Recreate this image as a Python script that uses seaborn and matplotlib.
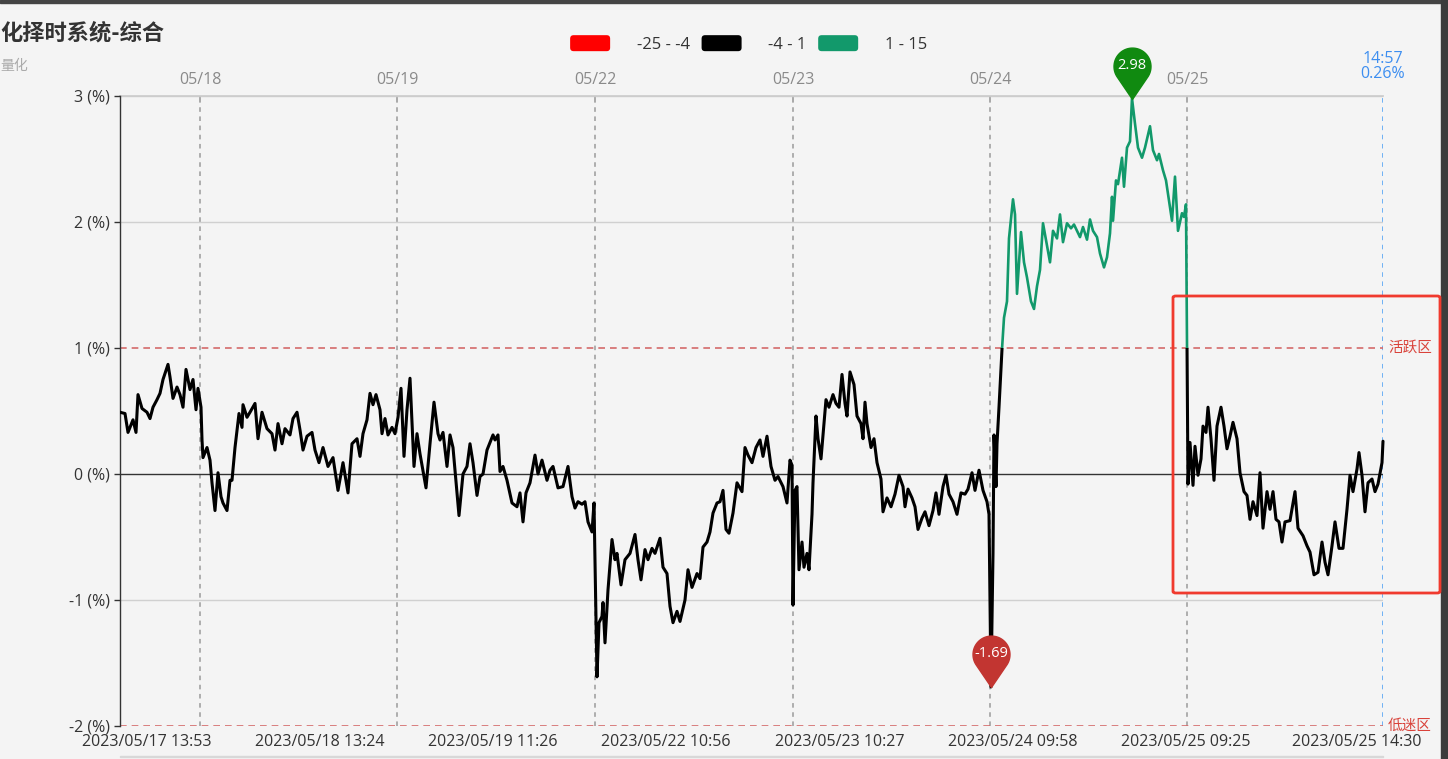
import numpy as np
import pandas as pd
import seaborn as sns
import matplotlib.pyplot as plt
from matplotlib.path import Path
from matplotlib.patches import Rectangle, FancyBboxPatch, Patch
from matplotlib.legend_handler import HandlerPatch
import matplotlib.transforms as mtransforms

# minute samples (category index) and percent values
t = [0, 5, 8, 13, 16, 18, 22, 27, 30, 33, 37, 40, 43, 48, 50, 53, 57, 60, 63, 66,
     70, 73, 76, 78, 81, 82, 83, 87, 90, 92, 95, 98, 101, 103, 107, 110, 112, 115, 119, 122,
     123, 127, 130, 135, 138, 142, 147, 152, 155, 158, 162, 165, 170, 173, 177, 180, 183, 187, 192, 195,
     199, 203, 208, 213, 218, 223, 228, 232, 237, 240, 243, 247, 250, 253, 256, 260, 262, 265, 268, 272,
     275, 278, 281, 284, 287, 290, 294, 297, 300, 306, 310, 314, 318, 320, 323, 327, 330, 333, 339, 343,
     347, 350, 353, 357, 360, 363, 367, 370, 373, 375, 378, 380, 383, 387, 392, 397, 400, 403, 406, 410,
     415, 418, 422, 427, 430, 433, 438, 443, 448, 452, 455, 458, 462, 465, 468, 472, 474, 475, 477, 479,
     482, 483, 485, 488, 492, 495, 497, 501, 505, 510, 515, 518, 521, 525, 528, 532, 535, 540, 543, 547,
     550, 553, 557, 560, 565, 568, 572, 577, 580, 583, 587, 590, 593, 597, 600, 603, 606, 609, 613, 617,
     622, 625, 628, 632, 636, 640, 643, 647, 651, 655, 658, 663, 667, 670, 672, 673, 675, 677, 679, 682,
     684, 687, 689, 692, 693, 696, 698, 701, 703, 706, 709, 713, 716, 719, 722, 725, 727, 730, 734, 737,
     741, 743, 745, 747, 751, 754, 757, 761, 763, 767, 771, 775, 779, 783, 785, 788, 792, 795, 798, 802,
     805, 809, 813, 816, 819, 823, 826, 829, 833, 837, 841, 845, 848, 852, 855, 859, 863, 867, 869, 871,
     873, 874, 876, 877, 879, 882, 884, 887, 889, 893, 895, 897, 901, 904, 907, 911, 914, 917, 920, 923,
     927, 930, 933, 937, 940, 943, 947, 951, 954, 960, 963, 967, 970, 973, 977, 980, 984, 987, 990, 992,
     993, 996, 998, 1002, 1004, 1007, 1010, 1012, 1015, 1018, 1022, 1025, 1030, 1033, 1037, 1039, 1043, 1046, 1049, 1052,
     1055, 1058, 1062, 1064, 1066, 1068, 1070, 1073, 1075, 1078, 1081, 1083, 1086, 1088, 1091, 1094, 1097, 1101, 1104, 1107,
     1110, 1113, 1117, 1120, 1124, 1127, 1130, 1133, 1137, 1140, 1143, 1147, 1150, 1153, 1156, 1159, 1162, 1165, 1170, 1175,
     1178, 1183, 1187, 1190, 1194, 1198, 1202, 1205, 1208, 1212, 1215, 1219, 1223, 1227, 1230, 1233, 1237, 1239, 1242, 1245,
     1248, 1252, 1255, 1258, 1262, 1263]
pct = [0.49, 0.48, 0.33, 0.43, 0.33, 0.63, 0.52, 0.49, 0.44, 0.53, 0.59, 0.64, 0.75, 0.87, 0.77, 0.60, 0.69, 0.63, 0.53, 0.83,
       0.67, 0.75, 0.51, 0.68, 0.53, 0.27, 0.13, 0.21, 0.11, -0.07, -0.29, 0.01, -0.18, -0.23, -0.29, -0.05, -0.05, 0.21, 0.48, 0.37,
       0.55, 0.45, 0.49, 0.56, 0.28, 0.49, 0.36, 0.32, 0.19, 0.40, 0.24, 0.36, 0.31, 0.44, 0.49, 0.35, 0.19, 0.30, 0.33, 0.19,
       0.09, 0.21, 0.06, 0.13, -0.13, 0.09, -0.15, 0.24, 0.28, 0.14, 0.32, 0.43, 0.64, 0.55, 0.63, 0.51, 0.32, 0.44, 0.31, 0.37,
       0.32, 0.45, 0.68, 0.14, 0.51, 0.76, 0.06, 0.32, 0.16, -0.11, 0.24, 0.57, 0.32, 0.27, 0.33, 0.06, 0.31, 0.21, -0.33, 0.00,
       0.06, 0.24, 0.09, -0.17, -0.02, 0.00, 0.19, 0.25, 0.31, 0.27, 0.31, 0.02, 0.06, -0.05, -0.23, -0.26, -0.15, -0.38, -0.15, -0.07,
       0.15, 0.00, 0.11, -0.05, 0.03, 0.06, -0.11, -0.10, 0.06, -0.18, -0.27, -0.22, -0.24, -0.22, -0.38, -0.46, -0.23, -0.68, -1.61, -1.18,
       -1.13, -1.02, -1.34, -0.92, -0.52, -0.68, -0.63, -0.88, -0.68, -0.63, -0.48, -0.68, -0.84, -0.60, -0.68, -0.59, -0.63, -0.51, -0.74, -0.79,
       -1.05, -1.18, -1.09, -1.17, -1.00, -0.76, -0.90, -0.79, -0.83, -0.58, -0.54, -0.46, -0.31, -0.23, -0.22, -0.13, -0.44, -0.47, -0.31, -0.07,
       -0.14, 0.21, 0.15, 0.09, 0.21, 0.27, 0.14, 0.30, 0.06, -0.05, -0.02, -0.10, -0.23, 0.11, 0.07, -1.04, -0.13, -0.10, -0.76, -0.54,
       -0.74, -0.63, -0.76, -0.32, -0.07, 0.46, 0.28, 0.12, 0.31, 0.59, 0.53, 0.63, 0.56, 0.53, 0.79, 0.56, 0.46, 0.81, 0.71, 0.46,
       0.40, 0.28, 0.57, 0.40, 0.21, 0.28, 0.09, -0.04, -0.30, -0.19, -0.26, -0.16, -0.01, -0.10, -0.26, -0.12, -0.19, -0.26, -0.44, -0.35,
       -0.30, -0.41, -0.29, -0.15, -0.32, -0.10, -0.01, -0.16, -0.22, -0.32, -0.15, -0.16, -0.12, 0.01, -0.13, 0.03, -0.13, -0.22, -0.32, -1.69,
       -0.63, 0.31, -0.10, 0.24, 0.53, 0.99, 1.24, 1.37, 1.87, 2.18, 2.06, 1.43, 1.92, 1.68, 1.56, 1.37, 1.31, 1.49, 1.62, 1.99,
       1.81, 1.68, 1.93, 1.87, 2.06, 1.84, 1.99, 1.95, 1.98, 1.88, 1.96, 1.86, 2.02, 1.93, 1.88, 1.75, 1.64, 1.72, 1.91, 2.20,
       2.01, 2.33, 2.30, 2.51, 2.28, 2.59, 2.64, 2.98, 2.78, 2.59, 2.51, 2.59, 2.76, 2.57, 2.49, 2.54, 2.41, 2.33, 2.17, 2.01,
       2.36, 1.93, 2.07, 2.04, 2.14, -0.08, 0.25, -0.09, 0.22, -0.01, 0.12, 0.38, 0.33, 0.53, 0.28, -0.05, 0.38, 0.53, 0.38, 0.20,
       0.30, 0.41, 0.28, 0.01, -0.14, -0.17, -0.36, -0.22, -0.33, 0.01, -0.43, -0.14, -0.28, -0.14, -0.36, -0.38, -0.54, -0.38, -0.37, -0.14,
       -0.43, -0.49, -0.57, -0.62, -0.80, -0.78, -0.54, -0.70, -0.80, -0.57, -0.38, -0.59, -0.59, -0.28, -0.01, -0.14, 0.04, 0.17, -0.01, -0.30,
       -0.07, -0.04, -0.14, -0.08, 0.09, 0.26]

day_start = [80, 277, 475, 673, 870, 1067]
day_labels = ['05/18', '05/19', '05/22', '05/23', '05/24', '05/25']
stamp_pos = [27, 200, 373, 546, 720, 893, 1066, 1237]
stamp_labels = ['2023/05/17 13:53', '2023/05/18 13:24', '2023/05/19 11:26', '2023/05/22 10:56',
                '2023/05/23 10:27', '2023/05/24 09:58', '2023/05/25 09:25', '2023/05/25 14:30']
y_ticks = [-2, -1, 0, 1, 2, 3]
last_time = '14:57'
zones = {1: '活跃区', -2: '低迷区'}
piece_labels = ['-25 - -4', '-4 - 1', '1 - 15']
piece_colors = ['#ff0000', '#000000', '#12996b']

bg = '#f4f4f4'
sns.set_theme(style='white', rc={'axes.facecolor': bg, 'figure.facecolor': bg})
plt.rcParams['font.family'] = ['Open Sans', 'Noto Sans CJK SC', 'DejaVu Sans']

df = pd.DataFrame({'t': t, 'pct': pct})
n_total = t[-1]

fig = plt.figure(figsize=(14.48, 7.59), dpi=100)
ax = fig.add_axes([120 / 1448, 1 - 726 / 759, 1263 / 1448, 630 / 759])
ax.set_xlim(0, n_total)
ax.set_ylim(-2, 3)

# grid + reference lines
for yv in y_ticks:
    if yv in zones:
        continue
    if yv == 0:
        ax.axhline(0, color='#333333', lw=1, zorder=1)
    else:
        ax.axhline(yv, color='#d0d0d0', lw=1, zorder=0)
for yv, name in zones.items():
    ax.axhline(yv, color='#d46a6a', lw=1.2, ls=(0, (4, 3)), zorder=1)
    ax.text(1.004, yv, name, color='#d9423a', fontsize=10.5, va='center', ha='left',
            family='Noto Sans CJK SC',
            transform=mtransforms.blended_transform_factory(ax.transAxes, ax.transData))
for d in day_start:
    ax.axvline(d, color='#9a9a9a', lw=1.1, ls=(0, (3, 3)), zorder=0)
ax.axvline(n_total, color='#4a9ff5', lw=1.1, ls=(0, (3, 3)), zorder=0)

# price line coloured by piece (clip at 1)
sns.lineplot(data=df, x='t', y='pct', color='black', lw=2.2, sort=False, ax=ax, zorder=3)
ax.lines[-1].set_clip_path(Rectangle((0, -3), n_total + 10, 4, transform=ax.transData))
sns.lineplot(data=df, x='t', y='pct', color=piece_colors[2], lw=1.9, sort=False, ax=ax, zorder=3)
ax.lines[-1].set_clip_path(Rectangle((0, 1), n_total + 10, 3, transform=ax.transData))

# pins for max / min
d_c, r_c = 1.78, 1.0
a = np.arcsin(r_c / d_c)
ang = np.linspace(-a, np.pi + a, 60)
verts = [(0, 0)] + [(r_c * np.cos(q), d_c + r_c * np.sin(q)) for q in ang] + [(0, 0)]
pin = Path(verts, closed=True)
i_max = int(np.argmax(pct))
i_min = int(np.argmin(pct))
for i, col in [(i_max, '#108a10'), (i_min, '#c23531')]:
    ax.plot([t[i]], [pct[i]], marker=pin, ms=74, color=col, ls='none', clip_on=False, zorder=6)
    ax.annotate(f'{pct[i]:.2f}', (t[i], pct[i]), xytext=(0, 24), textcoords='offset points',
                ha='center', va='center', color='white', fontsize=10.5, zorder=7, annotation_clip=False)

# last value label
ax.annotate(f'{last_time}\n{pct[-1]:.2f}%', (n_total, 3), xytext=(0, 10), textcoords='offset points',
            ha='center', va='bottom', color='#3d8ef0', fontsize=11.5, linespacing=0.95,
            annotation_clip=False)

# axes styling
ax.set_yticks(y_ticks, labels=[f'{v} (%)' for v in y_ticks])
ax.set_xticks(stamp_pos, labels=stamp_labels)
ax.tick_params(axis='x', length=0, pad=6, labelsize=11.5, labelcolor='#333333')
ax.tick_params(axis='y', left=True, length=4, width=1, color='#333333', pad=3, labelsize=11.5, labelcolor='#333333')
ax.set_xlabel('')
ax.set_ylabel('')
for s in ['top', 'right', 'bottom']:
    ax.spines[s].set_visible(False)
ax.spines['left'].set_color('#333333')
ax.spines['left'].set_linewidth(1)

top = ax.secondary_xaxis('top')
top.set_xticks(day_start, labels=day_labels)
top.tick_params(direction='in', length=4, color='#aaaaaa', labelcolor='#8a8a8a', labelsize=11.5, pad=6)
top.spines['top'].set_color('#cccccc')

# legend
class RoundHandler(HandlerPatch):
    def create_artists(self, legend, orig_handle, xdescent, ydescent, width, height, fontsize, trans):
        p = FancyBboxPatch((-xdescent, -ydescent), width, height, boxstyle='round,pad=0,rounding_size=2.5',
                           facecolor=orig_handle.get_facecolor(), edgecolor='none', transform=trans)
        return [p]

handles = [Patch(color=c) for c in piece_colors]
fig.legend(handles, piece_labels, loc='center', bbox_to_anchor=(0.517, 1 - 44 / 759), ncol=3,
           frameon=False, fontsize=12, handlelength=2.4, handleheight=1.1, handletextpad=1.6,
           columnspacing=0.7, labelcolor='#333333', handler_map={Patch: RoundHandler()})

# titles
fig.text(0.0, 1 - 33 / 759, '化择时系统-综合', fontsize=16, weight='bold', color='#333333', va='center', ha='left',
         family='Noto Sans CJK SC')
fig.text(0.0, 1 - 66 / 759, '量化', fontsize=10, color='#aaaaaa', va='center', ha='left',
         family='Noto Sans CJK SC')

# highlight box and frame
fig.patches.append(FancyBboxPatch((1173 / 1448, 1 - 593 / 759), 267 / 1448, 297 / 759,
                                  boxstyle='round,pad=0,rounding_size=0.002', fill=False,
                                  edgecolor='#f03a2e', lw=2, transform=fig.transFigure, zorder=10))
fig.patches.append(Rectangle((0, 1 - 3 / 759), 1, 3 / 759, color='#444444', transform=fig.transFigure))
fig.patches.append(Rectangle((1 - 7 / 1448, 0), 7 / 1448, 1, color='#3c3c3c', transform=fig.transFigure))
fig.patches.append(Rectangle((120 / 1448, 1 - 757 / 759), 1263 / 1448, 1.5 / 759, color='#d8d8d8',
                             transform=fig.transFigure))

fig.savefig('out.png', dpi=100, facecolor=bg)
